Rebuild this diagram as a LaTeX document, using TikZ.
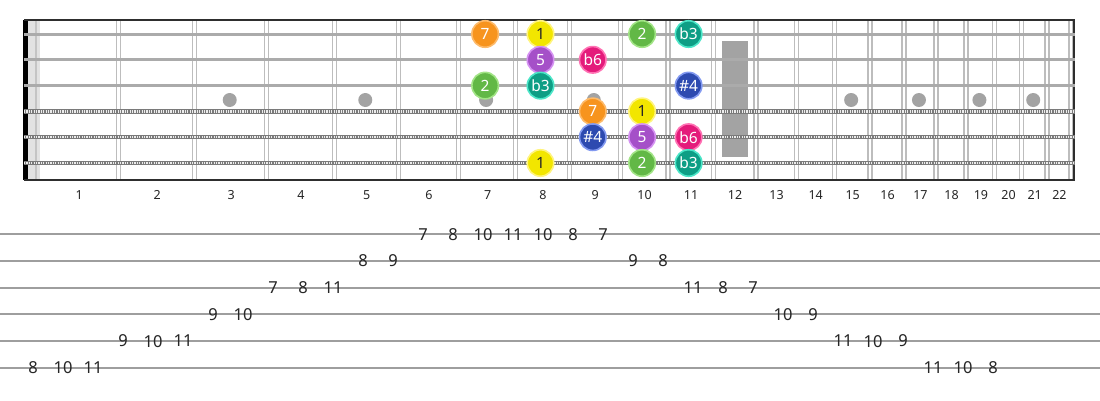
\documentclass[tikz,border=0pt]{standalone}
\usepackage{fontspec}
\setmainfont{Noto Sans}
\definecolor{nutgray}{HTML}{E2E2E2}
\definecolor{nutline}{HTML}{C4C4C4}
\definecolor{inlay}{HTML}{A3A3A3}
\definecolor{fretgray}{HTML}{BDBDBD}
\definecolor{border}{HTML}{2E2E2E}
\definecolor{plainstr}{HTML}{ABABAB}
\definecolor{woundstr}{HTML}{7A7A7A}
\definecolor{tabline}{HTML}{9E9E9E}
\definecolor{txt}{HTML}{262626}
\definecolor{oF}{HTML}{F7941E}\definecolor{oR}{HTML}{FDBA6A}
\definecolor{yF}{HTML}{F2E600}\definecolor{yR}{HTML}{FFF47E}
\definecolor{gF}{HTML}{62B846}\definecolor{gR}{HTML}{A2E486}
\definecolor{tF}{HTML}{0E9E85}\definecolor{tR}{HTML}{4CE6C8}
\definecolor{pF}{HTML}{A550C8}\definecolor{pR}{HTML}{D592F2}
\definecolor{mF}{HTML}{E41B7B}\definecolor{mR}{HTML}{FF72B4}
\definecolor{bF}{HTML}{2D4AB0}\definecolor{bR}{HTML}{8299F0}
\tikzset{
  note/.style={circle, minimum size=26.5pt, inner sep=0pt, line width=1.6pt, font=\fontsize{15.5}{15.5}\selectfont, text=white},
  nO/.style={note, fill=oF, draw=oR},
  nY/.style={note, fill=yF, draw=yR, text=txt},
  nG/.style={note, fill=gF, draw=gR},
  nT/.style={note, fill=tF, draw=tR},
  nP/.style={note, fill=pF, draw=pR},
  nM/.style={note, fill=mF, draw=mR},
  nB/.style={note, fill=bF, draw=bR},
  fretlbl/.style={font=\fontsize{12.5}{12.5}\selectfont, text=txt, inner sep=0pt},
  tabnum/.style={font=\fontsize{16.5}{16.5}\selectfont, text=txt, inner sep=0pt},
  fretwire/.style={draw=fretgray, line width=1.3pt},
  tabstr/.style={draw=tabline, line width=2pt},
}
\begin{document}
\begin{tikzpicture}[x=1pt,y=-1pt]
\useasboundingbox (0,0) rectangle (1100,400);
\fill[white] (0,0) rectangle (1100,400);
% nut
\fill[nutgray] (28,20) rectangle (40,180);
\draw[nutline, line width=1.5pt] (36,20) -- (36,180);
\fill[black] (22.5,20) rectangle (27.5,180);
% inlay dots
\foreach \f in {3,5,7,9,15,17,19,21} {
  \pgfmathsetmacro\xa{1472.5-1435*exp(-0.057762265*(\f-1))}
  \pgfmathsetmacro\xb{1472.5-1435*exp(-0.057762265*\f)}
  \fill[inlay] ({(\xa+\xb)/2},100) circle (7);
}
\fill[inlay] (722,41) rectangle (748,157);
% frets
\foreach \f in {1,...,22} {
  \pgfmathsetmacro\xb{1472.5-1435*exp(-0.057762265*\f)}
  \draw[fretwire] (\xb-1,20) -- (\xb-1,180);
  \draw[fretwire] (\xb+3,20) -- (\xb+3,180);
}
% fret labels
\foreach \f in {1,...,22} {
  \pgfmathsetmacro\xa{1472.5-1435*exp(-0.057762265*(\f-1))}
  \pgfmathsetmacro\xb{1472.5-1435*exp(-0.057762265*\f)}
  \node[fretlbl] (fl\f) at ({(\xa+\xb)/2+1.5},195) {\f};
}
% border
\draw[border, line width=2pt] (24,20) -- (1075,20);
\draw[border, line width=2pt] (24,180) -- (1075,180);
\draw[border, line width=2pt] (1074,20) -- (1074,180);
% strings
\foreach \s in {1,2,3} {
  \pgfmathsetmacro\yy{34+25.8*(\s-1)}
  \draw[plainstr, line width=3pt] (24,\yy) -- (1075,\yy);
}
\foreach \s in {4,5,6} {
  \pgfmathsetmacro\yy{34+25.8*(\s-1)}
  \draw[woundstr, line width=4.4pt] (24,\yy) -- (1075,\yy);
  \draw[white!85!gray, line width=2.2pt, dash pattern=on 1.1pt off 1.3pt] (24,\yy) -- (1075,\yy);
}
% notes
\foreach \f/\s/\l/\st [count=\k] in {
  7/1/7/nO, 8/1/1/nY, 10/1/2/nG, 11/1/b3/nT,
  8/2/5/nP, 9/2/b6/nM,
  7/3/2/nG, 8/3/b3/nT, 11/3/\#4/nB,
  9/4/7/nO, 10/4/1/nY,
  9/5/\#4/nB, 10/5/5/nP, 11/5/b6/nM,
  8/6/1/nY, 10/6/2/nG, 11/6/b3/nT} {
  \pgfmathsetmacro\xa{1472.5-1435*exp(-0.057762265*(\f-1))}
  \pgfmathsetmacro\xb{1472.5-1435*exp(-0.057762265*\f)}
  \pgfmathsetmacro\yy{34+25.8*(\s-1)}
  \node[\st] (note\k) at ({(\xa+\xb)/2-1},\yy) {\l};
}
% tab staff
\foreach \r in {1,...,6} {
  \pgfmathsetmacro\yy{234.3+26.7*(\r-1)}
  \coordinate (tl\r) at (0,\yy);
  \coordinate (tr\r) at (1100,\yy);
  \draw[tabstr] (tl\r) -- (tr\r);
}
\foreach \r/\n [count=\i from 0] in {
  6/8, 6/10, 6/11, 5/9, 5/10, 5/11, 4/9, 4/10, 3/7, 3/8, 3/11, 2/8, 2/9,
  1/7, 1/8, 1/10, 1/11, 1/10, 1/8, 1/7,
  2/9, 2/8, 3/11, 3/8, 3/7, 4/10, 4/9, 5/11, 5/10, 5/9, 6/11, 6/10, 6/8} {
  \pgfmathsetmacro\yy{234.3+26.7*(\r-1)}
  \node[tabnum] (tab\i) at ({33+30*\i},\yy) {\n};
}
\end{tikzpicture}
\end{document}
